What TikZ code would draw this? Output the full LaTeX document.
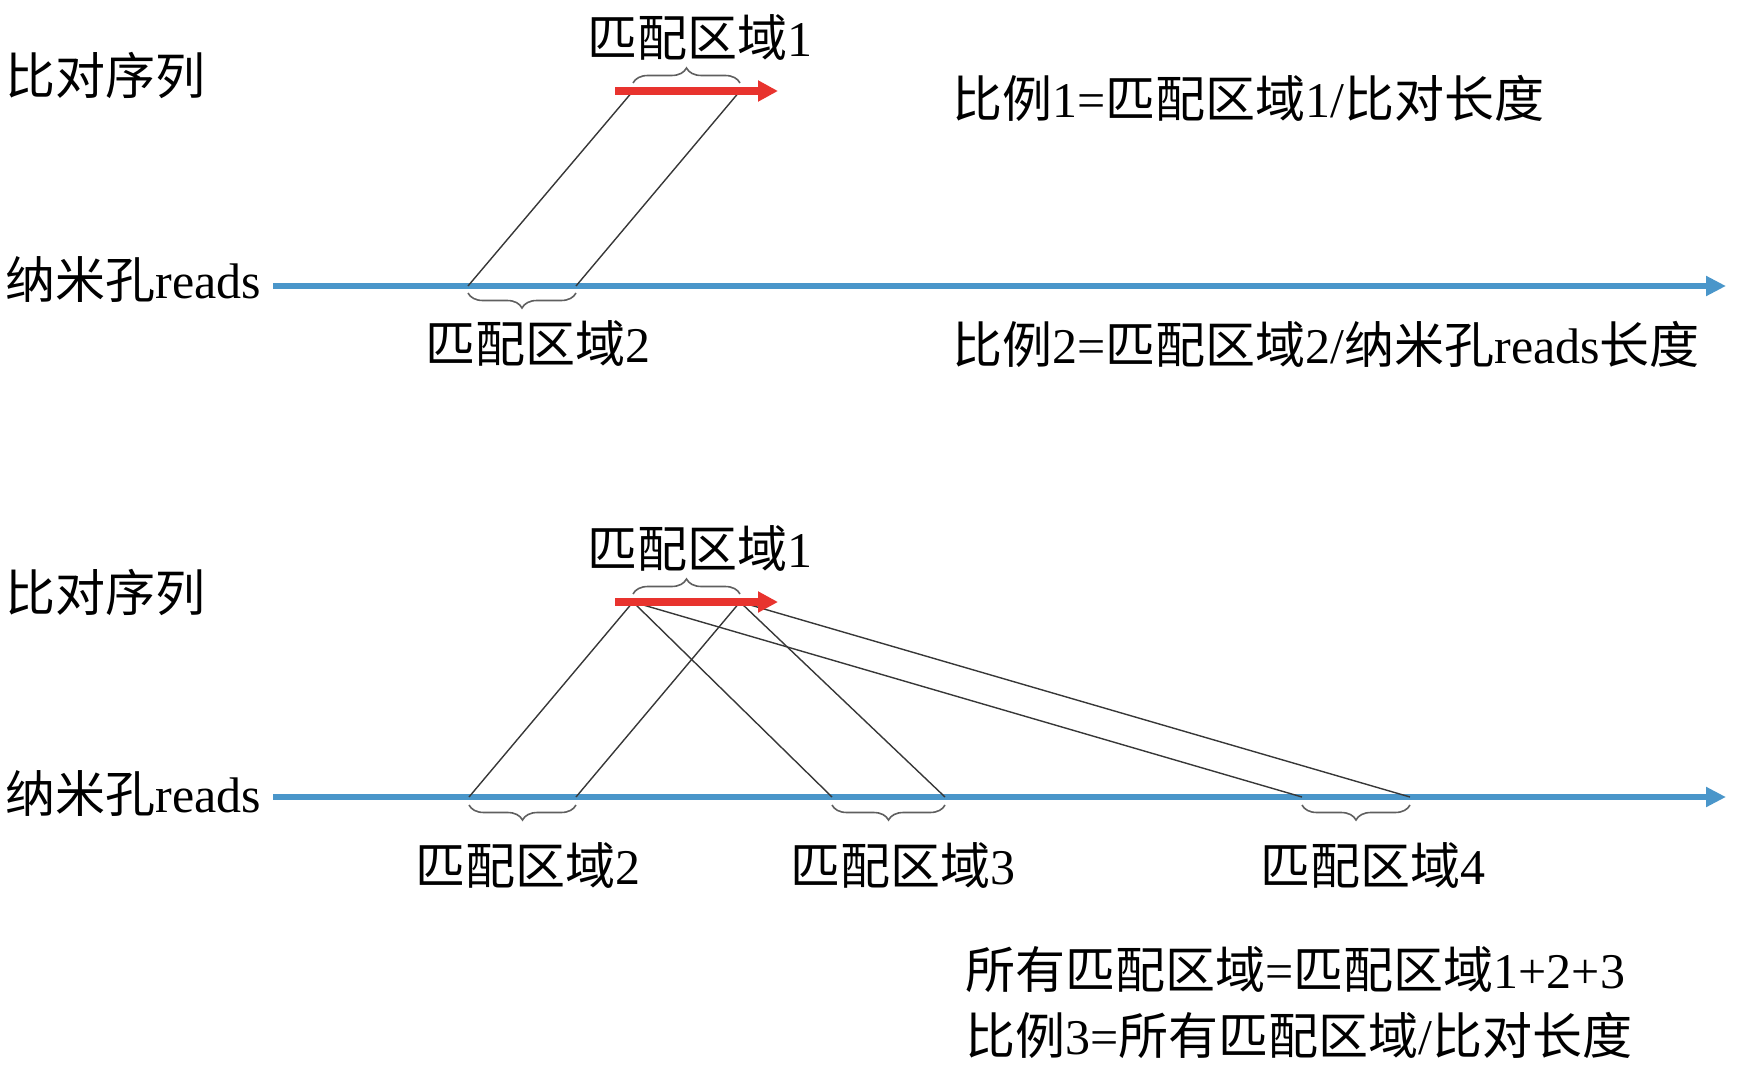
\documentclass[tikz,border=0pt]{standalone}
\usepackage{fontspec}
\setmainfont{Liberation Serif}
\newfontfamily\cjk{Noto Sans CJK SC}
\usetikzlibrary{arrows.meta,decorations.pathreplacing}
\definecolor{readblue}{RGB}{74,150,202}
\definecolor{seqred}{RGB}{232,51,46}
\definecolor{linegray}{RGB}{55,55,55}
\definecolor{bracegray}{RGB}{95,95,95}
\tikzset{
  lbl/.style={inner sep=0pt, font=\fontsize{25pt}{29pt}\selectfont, text=black},
  readarrow/.style={draw=readblue, line width=2.75pt, -{Triangle[length=10pt,width=9.5pt]}},
  seqarrow/.style={draw=seqred, line width=4pt, -{Triangle[length=10pt,width=10pt]}},
  match/.style={draw=linegray, line width=0.7pt},
  bracket/.style={draw=bracegray, line width=0.8pt, decorate, decoration={brace, amplitude=7.5pt}},
}
\newcommand\zh[1]{{\cjk #1}}
\begin{document}
\begin{tikzpicture}[x=0.5pt,y=-0.5pt]
\useasboundingbox (0,0) rectangle (1745,1065);

% ---------- top panel ----------
\coordinate (s1a) at (615,91);
\coordinate (s1b) at (778,91);
\coordinate (r1a) at (273,286);
\coordinate (r1b) at (1726,286);
\coordinate (p1a) at (633,91);
\coordinate (p1b) at (740,91);
\coordinate (q2a) at (468,286);
\coordinate (q2b) at (576,286);
\coordinate (b1a) at (633,83);
\coordinate (b1b) at (740,83);
\coordinate (b2a) at (576,293);
\coordinate (b2b) at (468,293);

\draw[readarrow] (r1a) -- (r1b);
\draw[match] (p1a) -- (q2a);
\draw[match] (p1b) -- (q2b);
\draw[seqarrow] (s1a) -- (s1b);
\draw[bracket] (b1a) -- (b1b);
\draw[bracket] (b2a) -- (b2b);

\node[lbl, anchor=west] (seq1) at (5,76) {\zh{比对序列}};
\node[lbl, anchor=west] (read1) at (5,279) {\zh{纳米孔}reads};
\node[lbl] (m1top) at (700,38) {\zh{匹配区域}1};
\node[lbl] (m2top) at (538,343) {\zh{匹配区域}2};
\node[lbl, anchor=west] (ratio1) at (952,98) {\zh{比例}1=\zh{匹配区域}1/\zh{比对长度}};
\node[lbl, anchor=west] (ratio2) at (952,344) {\zh{比例}2=\zh{匹配区域}2/\zh{纳米孔}reads\zh{长度}};

% ---------- bottom panel ----------
\coordinate (s2a) at (615,602);
\coordinate (s2b) at (778,602);
\coordinate (r2a) at (273,797);
\coordinate (r2b) at (1726,797);
\coordinate (p2a) at (633,602);
\coordinate (p2b) at (740,602);
\coordinate (u2a) at (469,797);
\coordinate (u2b) at (576,797);
\coordinate (u3a) at (832,797);
\coordinate (u3b) at (945,797);
\coordinate (u4a) at (1302,797);
\coordinate (u4b) at (1410,797);
\coordinate (c1a) at (633,594);
\coordinate (c1b) at (740,594);
\coordinate (c2a) at (576,805);
\coordinate (c2b) at (469,805);
\coordinate (c3a) at (945,805);
\coordinate (c3b) at (832,805);
\coordinate (c4a) at (1410,805);
\coordinate (c4b) at (1302,805);

\draw[readarrow] (r2a) -- (r2b);
\draw[match] (p2a) -- (u2a);
\draw[match] (p2b) -- (u2b);
\draw[match] (p2a) -- (u3a);
\draw[match] (p2b) -- (u3b);
\draw[match] (p2a) -- (u4a);
\draw[match] (p2b) -- (u4b);
\draw[seqarrow] (s2a) -- (s2b);
\draw[bracket] (c1a) -- (c1b);
\draw[bracket] (c2a) -- (c2b);
\draw[bracket] (c3a) -- (c3b);
\draw[bracket] (c4a) -- (c4b);

\node[lbl, anchor=west] (seq2) at (5,592) {\zh{比对序列}};
\node[lbl, anchor=west] (read2) at (5,793) {\zh{纳米孔}reads};
\node[lbl] (m1bot) at (700,548) {\zh{匹配区域}1};
\node[lbl] (m2bot) at (528,865) {\zh{匹配区域}2};
\node[lbl] (m3bot) at (903,865) {\zh{匹配区域}3};
\node[lbl] (m4bot) at (1373,865) {\zh{匹配区域}4};
\node[lbl, anchor=west] (allm) at (965,970) {\zh{所有匹配区域}=\zh{匹配区域}1+2+3};
\node[lbl, anchor=west] (ratio3) at (965,1035) {\zh{比例}3=\zh{所有匹配区域}/\zh{比对长度}};
\end{tikzpicture}
\end{document}
